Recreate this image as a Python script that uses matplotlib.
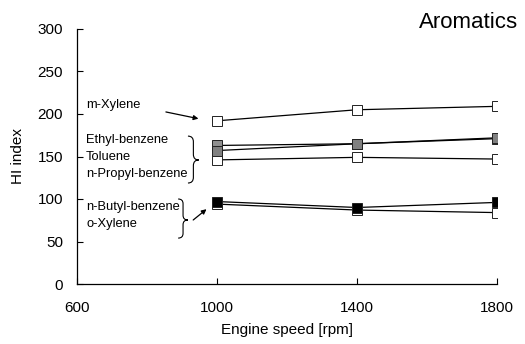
import matplotlib
matplotlib.use("Agg")
import matplotlib.pyplot as plt
from matplotlib.path import Path
from matplotlib.patches import PathPatch

plt.rcParams['font.family'] = ['Liberation Sans', 'DejaVu Sans']

speed = [1000, 1400, 1800]
m_xylene = [192, 205, 209]
ethyl_benzene = [163, 165, 171]
toluene = [157, 165, 172]
n_propyl_benzene = [146, 149, 147]
o_xylene = [94, 87, 84]
n_butyl_benzene = [97, 90, 96]

fig = plt.figure(figsize=(5.25, 3.44), dpi=100)
ax = fig.add_axes([77/525, 1-284/344, 420/525, 255/344])

lw = 0.9
mk = dict(marker='s', markersize=7.0, markeredgewidth=0.7, markeredgecolor='#222222')
ax.plot(speed, m_xylene, color='black', lw=lw, markerfacecolor='white', **mk)
ax.plot(speed, n_propyl_benzene, color='black', lw=lw, markerfacecolor='white', **mk)
ax.plot(speed, ethyl_benzene, color='black', lw=lw, markerfacecolor='#909090', **mk)
ax.plot(speed, toluene, color='black', lw=lw, markerfacecolor='#808080', **mk)
ax.plot(speed, o_xylene, color='black', lw=lw, markerfacecolor='white', **mk)
ax.plot(speed, n_butyl_benzene, color='black', lw=lw, markerfacecolor='black', **mk)

ax.set_xlim(600, 1800)
ax.set_ylim(0, 300)
ax.set_xticks([600, 1000, 1400, 1800])
ax.set_yticks(range(0, 301, 50))
ax.spines['top'].set_visible(False)
ax.spines['right'].set_visible(False)
for s in ('left', 'bottom'):
    ax.spines[s].set_linewidth(0.9)
ax.tick_params(direction='in', length=4, width=0.8, labelsize=11)
ax.tick_params(axis='x', pad=12)
ax.tick_params(axis='y', pad=10)
ax.set_xlabel('Engine speed [rpm]', fontsize=11, labelpad=6)
ax.set_ylabel('HI index', fontsize=11, labelpad=9)

fs = 9.3
ax.text(626, 210, 'm-Xylene', fontsize=fs, va='center', ha='left')
ax.text(626, 169.4, 'Ethyl-benzene', fontsize=fs, va='center', ha='left')
ax.text(626, 149.8, 'Toluene', fontsize=fs, va='center', ha='left')
ax.text(626, 129.4, 'n-Propyl-benzene', fontsize=fs, va='center', ha='left')
ax.text(626, 90.2, 'n-Butyl-benzene', fontsize=fs, va='center', ha='left')
ax.text(626, 70.2, 'o-Xylene', fontsize=fs, va='center', ha='left')

arrowprops = dict(arrowstyle='-|>', color='black', lw=0.9, mutation_scale=7, shrinkA=0, shrinkB=0)
ax.annotate('', xy=(947, 194.5), xytext=(854, 202.4), arrowprops=arrowprops)
ax.annotate('', xy=(970, 88), xytext=(932, 75.3), arrowprops=arrowprops)


def brace(x0, x1, y0, y1, ym):
    xm = (x0 + x1) / 2
    r = (y1 - y0) * 0.12
    verts = [(x0, y1), (xm, y1), (xm, y1 - r),
             (xm, ym + r), (xm, ym), (x1, ym),
             (xm, ym), (xm, ym - r),
             (xm, y0 + r), (xm, y0), (x0, y0)]
    codes = [Path.MOVETO, Path.CURVE3, Path.CURVE3,
             Path.LINETO, Path.CURVE3, Path.CURVE3,
             Path.CURVE3, Path.CURVE3,
             Path.LINETO, Path.CURVE3, Path.CURVE3]
    ax.add_patch(PathPatch(Path(verts, codes), fill=False, lw=0.8, color='black', clip_on=False))


brace(917, 948, 118.8, 174, 145.9)
brace(889, 917, 54, 100, 75.3)

fig.text(518/525, 1-28/344, 'Aromatics', fontsize=16, ha='right', va='baseline')

fig.savefig('out.png', dpi=100)
